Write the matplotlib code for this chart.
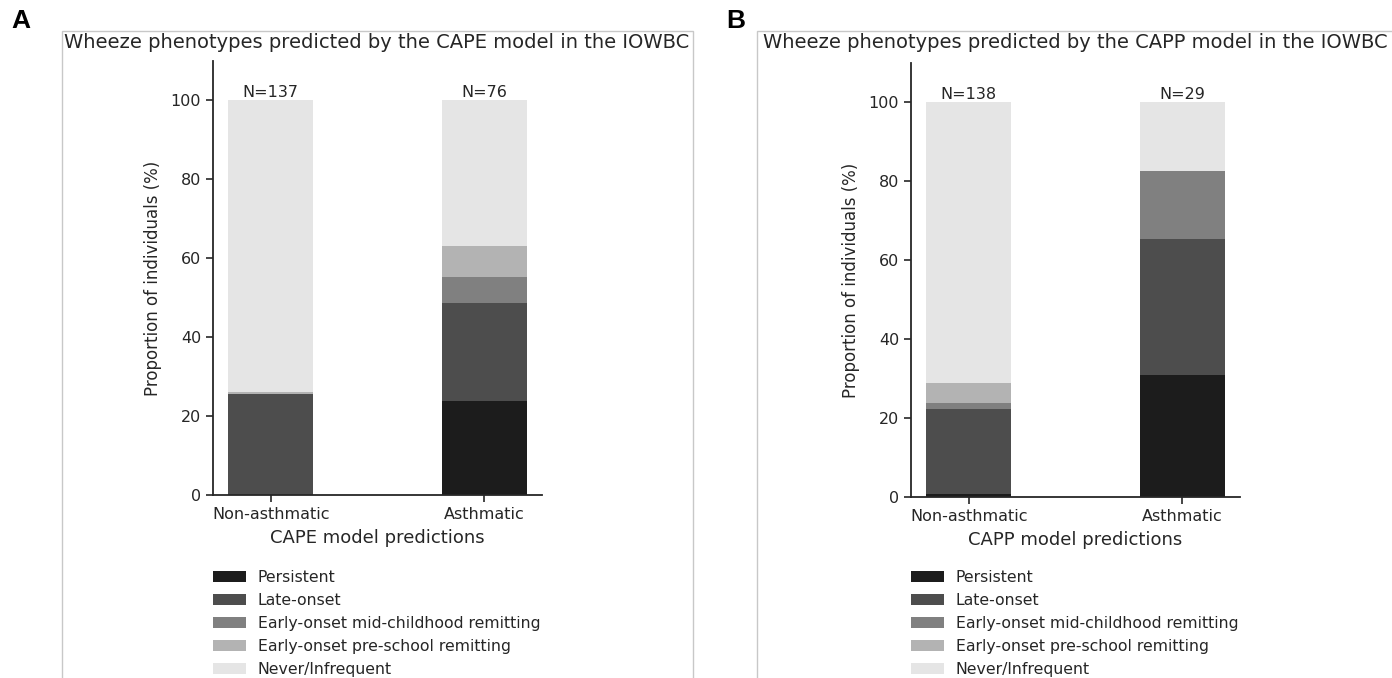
import matplotlib
matplotlib.use("Agg")
import matplotlib.pyplot as plt
from matplotlib.patches import Rectangle

# ---------- data (percent of individuals) ----------
groups = ["Non-asthmatic", "Asthmatic"]
phenotypes = ["Persistent", "Late-onset", "Early-onset mid-childhood remitting",
              "Early-onset pre-school remitting", "Never/Infrequent"]
colors = ["#1c1c1c", "#4d4d4d", "#808080", "#b3b3b3", "#e5e5e5"]

cape_n = [137, 76]
cape_persistent = [0.0, 23.7]
cape_late = [25.5, 25.0]
cape_mid = [0.0, 6.6]
cape_pre = [0.7, 7.9]
cape_never = [73.8, 36.8]

capp_n = [138, 29]
capp_persistent = [0.7, 31.0]
capp_late = [21.7, 34.5]
capp_mid = [1.4, 17.2]
capp_pre = [5.1, 0.0]
capp_never = [71.1, 17.3]

TXT = "#262626"
W, H = 1392, 678

fig = plt.figure(figsize=(W / 100, H / 100), dpi=100)
plt.rcParams["font.family"] = ["DejaVu Sans"]


def px_axes(left, right, top, bottom):
    return fig.add_axes([left / W, 1 - bottom / H, (right - left) / W, (bottom - top) / H])


def panel(ax, series, counts, model, title, frame_x, frame_w, letter, letter_x, tx):
    bottom = [0.0, 0.0]
    x = list(range(len(groups)))
    for vals, col, lab in zip(series, colors, phenotypes):
        ax.bar(x, vals, width=0.4, bottom=bottom, color=col, linewidth=0, label=lab)
        bottom = [b + v for b, v in zip(bottom, vals)]
    for xi, n, top in zip(x, counts, bottom):
        ax.text(xi, top, f"N={n}", ha="center", va="bottom", fontsize=11.5, color=TXT)
    ax.set_ylim(0, 110)
    ax.set_yticks([0, 20, 40, 60, 80, 100])
    ax.set_xticks(x)
    ax.set_xticklabels(groups)
    ax.tick_params(labelsize=11.5, colors=TXT, length=5, width=1.2, direction="out")
    for s in ["top", "right"]:
        ax.spines[s].set_visible(False)
    for s in ["left", "bottom"]:
        ax.spines[s].set_color(TXT)
        ax.spines[s].set_linewidth(1.3)
    ax.set_ylabel("Proportion of individuals (%)", fontsize=12, color=TXT, labelpad=6)
    ax.set_xlabel(f"{model} model predictions", fontsize=13, color=TXT, labelpad=5)
    ax.legend(loc="upper left", bbox_to_anchor=(ax.get_position().x0, 1 - 570 / H),
              bbox_transform=fig.transFigure, frameon=False, fontsize=11.3,
              borderpad=0, borderaxespad=0, handlelength=2.1, handleheight=0.75,
              handletextpad=0.75, labelspacing=0.51, labelcolor=TXT)
    # thin frame around the panel
    fig.patches.append(Rectangle((frame_x / W, -0.1), frame_w / W, 1.1 - 31 / H,
                                 transform=fig.transFigure, fill=False,
                                 edgecolor="#c8c8c8", linewidth=1))
    fig.text(tx / W, 1 - 43 / H, title, ha="center", va="center", fontsize=14, color=TXT)
    fig.text(letter_x / W, 1 - 21 / H, letter, ha="left", va="center", fontsize=19,
             fontweight="bold", family="Liberation Sans", color="black")


axA = px_axes(213, 542, 61, 495)
panel(axA, [cape_persistent, cape_late, cape_mid, cape_pre, cape_never], cape_n, "CAPE",
      "Wheeze phenotypes predicted by the CAPE model in the IOWBC", 62, 631, "A", 11, 377)

axB = px_axes(911, 1240, 63, 497)
panel(axB, [capp_persistent, capp_late, capp_mid, capp_pre, capp_never], capp_n, "CAPP",
      "Wheeze phenotypes predicted by the CAPP model in the IOWBC", 757, 700, "B", 726, 1075)

fig.savefig("out.png", dpi=100)
